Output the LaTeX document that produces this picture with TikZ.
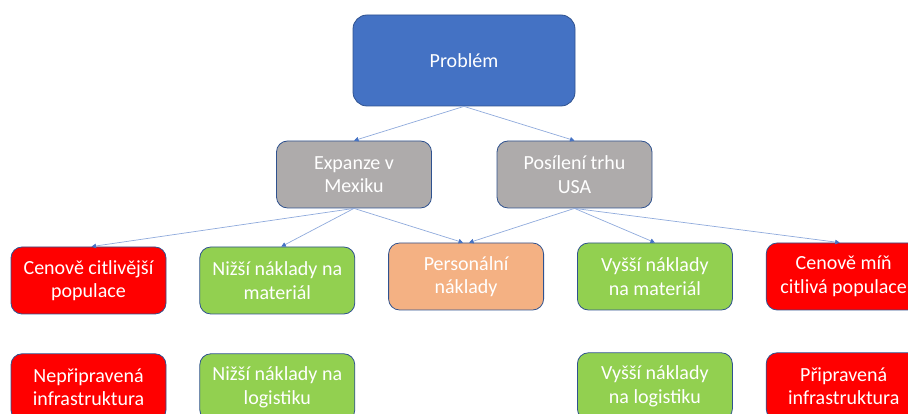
\documentclass[tikz,border=0pt]{standalone}
\usepackage{fontspec}
\setmainfont{Carlito}
\usetikzlibrary{positioning, arrows.meta}
\definecolor{probblue}{HTML}{4472C4}
\definecolor{edgeblue}{HTML}{2F528F}
\definecolor{linkblue}{HTML}{8FAADC}
\definecolor{boxgray}{HTML}{AEABAB}
\definecolor{boxred}{HTML}{FF0000}
\definecolor{boxgreen}{HTML}{92D050}
\definecolor{boxorange}{HTML}{F4B183}
\tikzset{
    box/.style={draw=edgeblue, line width=0.8pt, rounded corners=11pt, text=white,
        align=center, minimum width=155pt, minimum height=67pt, inner sep=2pt,
        font=\fontsize{20}{23.5}\selectfont}, % common box look
    problem/.style={box, fill=probblue, minimum width=222pt, minimum height=91pt, rounded corners=14pt},
    cause/.style={box, fill=boxgray},
    bad/.style={box, fill=boxred},
    good/.style={box, fill=boxgreen},
    cost/.style={box, fill=boxorange},
    link/.style={draw=linkblue, line width=0.7pt, -{Triangle[length=4.5pt,width=4.5pt,color=probblue]}},
}

\begin{document}
\begin{tikzpicture}[x=1pt, y=1pt, node distance=33pt]
        \useasboundingbox (0,0) rectangle (908,414);
        \clip (0,0) rectangle (908,414);

        % Top levels
        \node[problem] (prob) at (464,353.5) {Problém};
        \node[cause] (mex) at (354,239.5) {Expanze v\\Mexiku};
        \node[cause] (usa) at (574.5,239.5) {Posílení trhu\\USA};

        % Third row
        \node[bad] (c1) at (88.5,133.5) {Cenově citlivější\\populace};
        \node[good] (c2) [right=of c1] {Nižší náklady na\\materiál};
        \node[cost] (c3) [right=of c2, yshift=4pt] {Personální\\náklady};
        \node[good] (c4) [right=of c3] {Vyšší náklady\\na materiál};
        \node[bad] (c5) [right=of c4] {Cenově míň\\citlivá populace};

        % Bottom row
        \node[bad] (d1) [below=39pt of c1] {Nepřipravená\\infrastruktura};
        \node[good] (d2) [below=39pt of c2] {Nižší náklady na\\logistiku};
        \node[good] (d4) [below=42pt of c4] {Vyšší náklady\\na logistiku};
        \node[bad] (d5) [below=42pt of c5] {Připravená\\infrastruktura};

        % Links
        \path[link] (prob.south) -- (mex.north);
        \path[link] (prob.south) -- (usa.north);
        \path[link] (mex.south) -- ([xshift=3pt]c1.north);
        \path[link] (mex.south) -- ([xshift=4pt]c2.north);
        \path[link] (mex.south) -- ([xshift=-3pt]c3.north);
        \path[link] (usa.south) -- ([xshift=3pt]c3.north);
        \path[link] (usa.south) -- (c4.north);
        \path[link] (usa.south) -- ([xshift=-4pt]c5.north);
    \end{tikzpicture}
\end{document}
